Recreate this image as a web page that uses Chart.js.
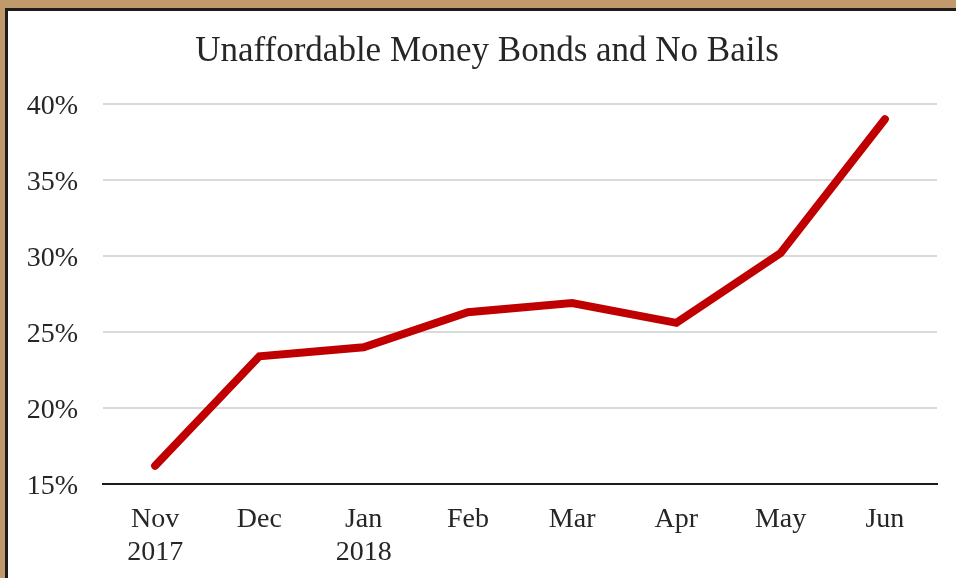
<!DOCTYPE html>
<html>
<head>
<meta charset="utf-8">
<script src="https://cdn.jsdelivr.net/npm/chart.js@4"></script>
<style>
  html, body { margin: 0; padding: 0; }
  body { width: 956px; height: 578px; background: #C09A6B; overflow: hidden; position: relative; }
  #frame {
    position: absolute; left: 5px; top: 8px; width: 1000px; height: 600px;
    background: #ffffff; border-left: 3px solid #1c1c1c; border-top: 3px solid #1c1c1c;
  }
  #wrap { position: absolute; left: 0; top: 0; width: 958px; height: 567px; }
</style>
</head>
<body>
<div id="frame"><div id="wrap"><canvas id="c"></canvas></div></div>
<script>
// Monthly share of cases with unaffordable money bonds or no bail
const months = [['Nov', '2017'], 'Dec', ['Jan', '2018'], 'Feb', 'Mar', 'Apr', 'May', 'Jun'];
const shares = [16.2, 23.4, 24.0, 26.3, 26.9, 25.6, 30.2, 39.0];
const yTicks = [15, 20, 25, 30, 35, 40];

const serif = '"Liberation Serif", "Times New Roman", serif';
const ink = '#262626';

new Chart(document.getElementById('c'), {
  type: 'line',
  data: {
    labels: months,
    datasets: [{
      data: shares,
      yAxisID: 'y',
      borderColor: '#C00000',
      borderWidth: 8,
      borderCapStyle: 'round',
      borderJoinStyle: 'miter',
      pointRadius: 0,
      pointHoverRadius: 0,
      tension: 0,
      fill: false,
      clip: false
    }]
  },
  options: {
    responsive: true,
    maintainAspectRatio: false,
    animation: false,
    layout: { padding: 0 },
    plugins: {
      legend: { display: false },
      tooltip: { enabled: false },
      title: {
        display: true,
        text: 'Unaffordable Money Bonds and No Bails',
        color: ink,
        font: { family: serif, size: 35, weight: 'normal', lineHeight: 1.2 },
        padding: { top: 20, bottom: 31 }
      }
    },
    scales: {
      x: {
        offset: true,
        grid: { display: false, drawTicks: false },
        border: { display: true, color: '#1c1c1c', width: 2 },
        ticks: {
          color: ink,
          font: { family: serif, size: 28, lineHeight: 1.15 },
          padding: 20,
          maxRotation: 0,
          autoSkip: false
        },
        afterFit: (s) => { s.height = 94; }
      },
      y: {
        position: 'left',
        min: yTicks[0],
        max: yTicks[yTicks.length - 1],
        afterBuildTicks: (s) => { s.ticks = yTicks.map(v => ({ value: v })); },
        grid: { color: '#d9d9d9', lineWidth: 2, drawTicks: false },
        border: { display: false },
        ticks: {
          color: ink,
          font: { family: serif, size: 28 },
          padding: 25,
          labelOffset: 3,
          callback: (v) => v + '%'
        },
        afterFit: (s) => { s.width = 95; }
      },
      // empty right-hand margin so the plot ends short of the frame edge
      yRight: {
        position: 'right',
        min: yTicks[0],
        max: yTicks[yTicks.length - 1],
        grid: { display: false, drawTicks: false },
        border: { display: false },
        ticks: { display: false },
        afterFit: (s) => { s.width = 29; }
      }
    }
  }
});
</script>
</body>
</html>
